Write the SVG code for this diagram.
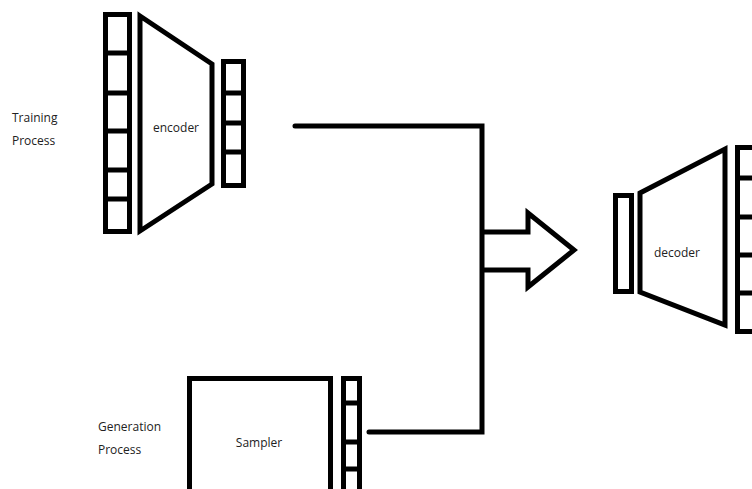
<svg xmlns="http://www.w3.org/2000/svg" width="752" height="489" viewBox="0 0 752 489">
<style>
.s{fill:none;stroke:#000;stroke-width:5;stroke-linejoin:miter}
.l{fill:none;stroke:#000;stroke-width:5;stroke-linecap:round}
.t{font-family:"Open Sans","Liberation Sans",sans-serif;font-size:12px;fill:#222}
</style>
<rect width="752" height="489" fill="#fff"/>
<text class="t" x="12" y="122">Training</text>
<text class="t" x="12" y="145">Process</text>
<text class="t" x="98" y="431">Generation</text>
<text class="t" x="98" y="454">Process</text>
<g id="encoder-input">
<rect class="s" x="105.5" y="14.5" width="24" height="217"/>
<path class="s" d="M105.5 53H129.5M105.5 93H129.5M105.5 131H129.5M105.5 170H129.5M105.5 199H129.5"/>
</g>
<g id="encoder">
<path class="s" d="M140 16L212 64L212 184L140 231Z"/>
<text class="t" x="176" y="132" text-anchor="middle">encoder</text>
</g>
<g id="latent">
<rect class="s" x="223.5" y="61.5" width="20" height="124"/>
<path class="s" d="M223.5 93H243.5M223.5 123H243.5M223.5 152H243.5"/>
</g>
<g id="decoder-input">
<rect class="s" x="615.5" y="195.5" width="16" height="96"/>
</g>
<g id="decoder">
<path class="s" d="M640 193L725 149L725 325L640 292Z"/>
<text class="t" x="677" y="257" text-anchor="middle">decoder</text>
</g>
<g id="decoder-output">
<rect class="s" x="737.5" y="147.5" width="30" height="184"/>
<path class="s" d="M737.5 178H752M737.5 217H752M737.5 255H752M737.5 293H752"/>
</g>
<g id="sampler">
<rect class="s" x="189.5" y="378.5" width="141" height="130"/>
<text class="t" x="259" y="447" text-anchor="middle">Sampler</text>
</g>
<g id="sample-vector">
<rect class="s" x="343.5" y="378.5" width="16" height="130"/>
<path class="s" d="M343.5 403H359.5M343.5 442H359.5M341 469H359.5"/>
</g>
<g id="connectors">
<path class="l" d="M295 126H482V432H369"/>
<path class="s" d="M482 232H528V213L574 250L528 287V270H482"/>
</g>
</svg>
